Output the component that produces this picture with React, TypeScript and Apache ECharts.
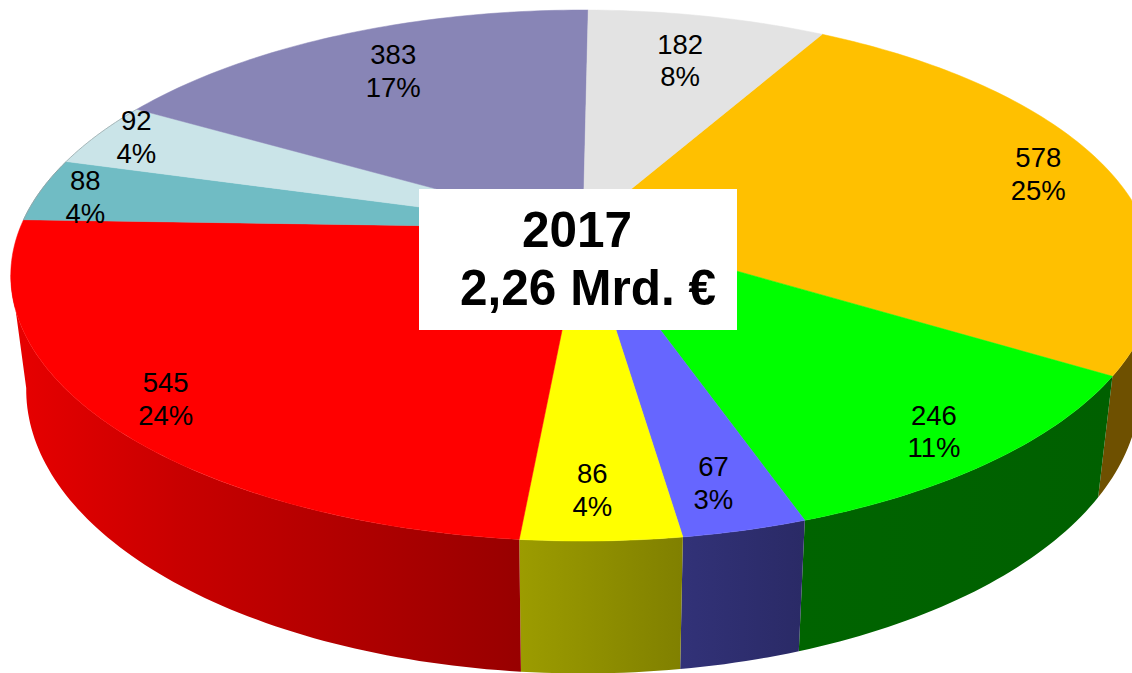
import React, { useEffect, useRef } from "react";
import * as echarts from "echarts";

const categories = ["A", "B", "C", "D", "E", "F", "G", "H", "I"];
const values = [578, 246, 67, 86, 545, 88, 92, 383, 182];
const percents = [25, 11, 3, 4, 24, 4, 4, 17, 8];
const topColors = ["#FFC000", "#00FF00", "#6666FF", "#FFFF00", "#FF0000", "#70BCC4", "#CAE4E8", "#8885B6", "#E3E3E3"];
const rimColors = ["", "", "", "", "", "#8FA5A8", "#A8B8BA", "", ""];
const wallStops = [
  ["#6E5000", "#6E5000"],
  ["#006400", "#006000"],
  ["#323278", "#2A2A66"],
  ["#9C9C00", "#808000"],
  ["#E80000", "#C80000", "#B00000", "#980000"],
  ["#3C6A70", "#3C6A70"],
  ["#708080", "#708080"],
  ["#4A4A68", "#4A4A68"],
  ["#808080", "#808080"],
];
const labelRadius = [0.868, 0.883, 0.865, 0.862, 0.89, 0.912, 0.927, 0.784, 0.764];
const labelNudge = [0, 0.6, 0.6, 0.6, -0.5, -1, 1, 0.7, -0.2];
const titleLines = ["2017", "2,26 Mrd. €"];

const START_DEG = 29.6;
const CX = 583, CY = 228, AX = 563, AY = 257, K = 0.179;
const FRONT_FROM = 100, FRONT_TO = 260;
const total = values.reduce((a, b) => a + b, 0);

function warp(deg: number) {
  return deg + 0.25 + 0.45 * Math.cos(((deg - 225) * Math.PI) / 180);
}
function project(deg: number, r = 1): [number, number] {
  const t = (deg * Math.PI) / 180;
  const X = r * Math.sin(t), Y = -r * Math.cos(t);
  const d = 1 - K * Y;
  return [CX + (AX * X) / d, CY + (AY * Y) / d];
}
function lower(p: [number, number]): [number, number] {
  return [CX + 0.973 * (p[0] - CX), CY + 110.8 + 1.069 * (p[1] - CY)];
}
function range(i: number): [number, number] {
  let s = 0;
  for (let j = 0; j < i; j++) s += values[j];
  const a = START_DEG + (s / total) * 360;
  return [warp(a), warp(a + (values[i] / total) * 360)];
}
function arc(a: number, b: number): [number, number][] {
  const pts: [number, number][] = [];
  const n = Math.max(2, Math.ceil(b - a));
  for (let i = 0; i <= n; i++) pts.push(project(a + ((b - a) * i) / n));
  return pts;
}

export default function App() {
  const ref = useRef<HTMLDivElement>(null);
  useEffect(() => {
    document.body.style.margin = "0";
    const chart = echarts.init(ref.current!, null, { renderer: "svg" });
    const data = values.map((v, i) => ({ name: categories[i], value: v }));
    const font = "Liberation Sans, Arial, sans-serif";
    chart.setOption({
      animation: false,
      backgroundColor: "#ffffff",
      series: [
        {
          type: "custom",
          coordinateSystem: "none",
          silent: true,
          data,
          renderItem: (params: any) => {
            const i = params.dataIndex;
            const [a0, b0] = range(i);
            const a = Math.max(a0, FRONT_FROM), b = Math.min(b0, FRONT_TO);
            if (b <= a) return { type: "group", children: [] };
            const top = arc(a, b);
            const points = top.concat(top.slice().reverse().map(lower));
            const stops = wallStops[i];
            return {
              type: "polygon",
              shape: { points },
              style: {
                fill: new echarts.graphic.LinearGradient(0, 0, 1, 0,
                  stops.map((c, j) => ({ offset: j / (stops.length - 1), color: c }))),
              },
            };
          },
        },
        {
          type: "custom",
          coordinateSystem: "none",
          silent: true,
          data,
          renderItem: (params: any) => {
            const i = params.dataIndex;
            const [a, b] = range(i);
            const rim = arc(a, b);
            const points = [[CX, CY] as [number, number]].concat(rim);
            const children: any[] = [
              {
                type: "polygon",
                shape: { points },
                style: { fill: topColors[i], stroke: topColors[i], lineWidth: 0.5 },
              },
            ];
            if (rimColors[i]) {
              children.push({
                type: "polyline",
                shape: { points: rim },
                style: { fill: "none", stroke: rimColors[i], lineWidth: 1 },
              });
            }
            return { type: "group", children };
          },
        },
        {
          type: "custom",
          coordinateSystem: "none",
          silent: true,
          data,
          renderItem: (params: any, api: any) => {
            const i = params.dataIndex;
            const [a, b] = range(i);
            const [x, y] = project((a + b) / 2 + labelNudge[i], labelRadius[i]);
            return {
              type: "text",
              style: {
                text: `${api.value(0)}\n${percents[i]}%`,
                x,
                y,
                align: "center",
                verticalAlign: "middle",
                fontFamily: font,
                fontSize: 27.5,
                lineHeight: 32.5,
                fill: "#000000",
              },
            };
          },
        },
      ],
      graphic: [
        { type: "rect", z: 100, shape: { x: 419, y: 189, width: 318, height: 141 }, style: { fill: "#ffffff" } },
        { type: "text", z: 101, style: { text: titleLines[0], x: 577, y: 229, align: "center", verticalAlign: "middle", fontFamily: font, fontWeight: "bold", fontSize: 49.5, fill: "#000000" } },
        { type: "text", z: 101, style: { text: titleLines[1], x: 588, y: 287, align: "center", verticalAlign: "middle", fontFamily: font, fontWeight: "bold", fontSize: 49.5, fill: "#000000" } },
      ],
    });
    return () => chart.dispose();
  }, []);
  return <div ref={ref} style={{ position: "absolute", left: 0, top: 0, width: 1132, height: 673 }} />;
}
